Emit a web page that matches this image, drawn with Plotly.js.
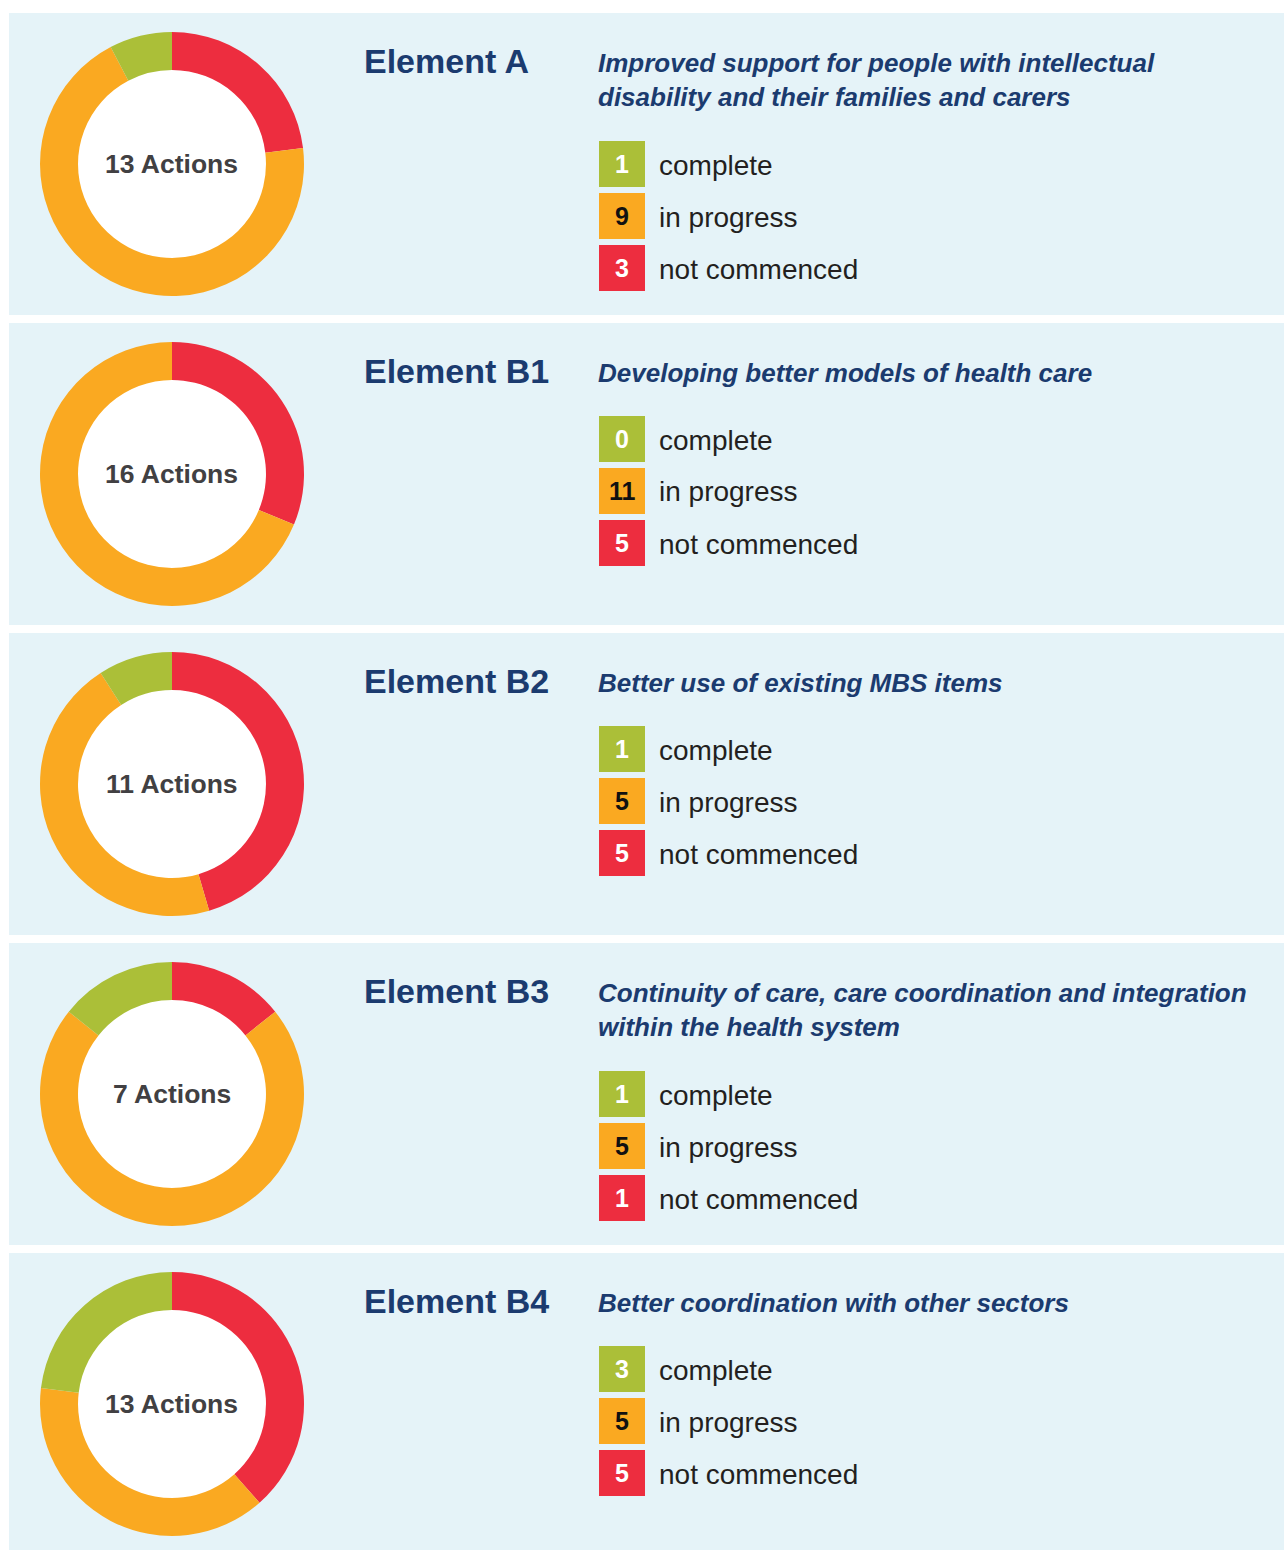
<!DOCTYPE html>
<html>
<head>
<meta charset="utf-8">
<script src="https://cdn.plot.ly/plotly-3.0.1.min.js"></script>
<style>
  html, body { margin: 0; padding: 0; background: #ffffff; }
  #chart { width: 1284px; height: 1550px; }
</style>
</head>
<body>
<div id="chart"></div>
<script>
// ---- Data ----
const elementNames = ["Element A", "Element B1", "Element B2", "Element B3", "Element B4"];
const elementSubtitles = [
  ["Improved support for people with intellectual", "disability and their families and carers"],
  ["Developing better models of health care"],
  ["Better use of existing MBS items"],
  ["Continuity of care, care coordination and integration", "within the health system"],
  ["Better coordination with other sectors"]
];
const completeCounts = [1, 0, 1, 1, 3];
const inProgressCounts = [9, 11, 5, 5, 5];
const notCommencedCounts = [3, 5, 5, 1, 5];
const statusLabels = ["complete", "in progress", "not commenced"];

// ---- Styles ----
const W = 1284, H = 1550;
const GREEN = "#ABBF38", ORANGE = "#FAA921", RED = "#ED2D3F";
const PANEL_BG = "#E5F3F8";
const NAVY = "#1B3B6F";
const FONT = "Liberation Sans, Arial, sans-serif";

const px = x => x / W;
const py = y => 1 - y / H;

const traces = [];
const shapes = [];
const annotations = [];

const PANEL_STEP = 310, PANEL_TOP = 13, PANEL_H = 302;

elementNames.forEach((name, i) => {
  const top = PANEL_TOP + i * PANEL_STEP;
  const bottom = Math.min(top + PANEL_H, H);
  // panel background
  shapes.push({
    type: "rect", xref: "paper", yref: "paper",
    x0: px(9), x1: px(W), y0: py(bottom), y1: py(top),
    fillcolor: PANEL_BG, line: { width: 0 }, layer: "below"
  });

  const cx = 172, cy = top + 151, r = 132, rin = 96;
  // white hole
  shapes.push({
    type: "circle", xref: "paper", yref: "paper",
    x0: px(cx - rin), x1: px(cx + rin), y0: py(cy + rin), y1: py(cy - rin),
    fillcolor: "#ffffff", line: { width: 0 }, layer: "below"
  });
  const vals = [notCommencedCounts[i], inProgressCounts[i], completeCounts[i]];
  const total = vals.reduce((a, b) => a + b, 0);
  traces.push({
    type: "pie",
    values: vals,
    labels: ["not commenced", "in progress", "complete"],
    marker: { colors: [RED, ORANGE, GREEN], line: { width: 0 } },
    sort: false,
    direction: "clockwise",
    rotation: 0,
    hole: 0.712,
    textinfo: "none",
    hoverinfo: "label+value",
    showlegend: false,
    domain: { x: [px(cx - r), px(cx + r)], y: [py(cy + r), py(cy - r)] }
  });
  annotations.push({
    xref: "paper", yref: "paper", x: px(cx), y: py(cy),
    xanchor: "center", yanchor: "middle", showarrow: false,
    text: "<b>" + total + " Actions</b>",
    font: { family: FONT, size: 26.5, color: "#414042" }
  });

  // Element title
  annotations.push({
    xref: "paper", yref: "paper", x: px(362), y: py(top + 48),
    xanchor: "left", yanchor: "middle", showarrow: false,
    text: "<b>" + name + "</b>",
    font: { family: FONT, size: 34, color: NAVY }
  });

  // Subtitle lines
  const lines = elementSubtitles[i];
  lines.forEach((ln, k) => {
    annotations.push({
      xref: "paper", yref: "paper", x: px(596), y: py(top + 50 + k * 34),
      xanchor: "left", yanchor: "middle", showarrow: false,
      text: "<b><i>" + ln + "</i></b>",
      font: { family: FONT, size: 26, color: NAVY }
    });
  });

  // Legend rows
  const legendTop = top + (lines.length > 1 ? 128 : 93);
  const counts = [completeCounts[i], inProgressCounts[i], notCommencedCounts[i]];
  const boxColors = [GREEN, ORANGE, RED];
  const numColors = ["#ffffff", "#111111", "#ffffff"];
  counts.forEach((c, k) => {
    const y0 = legendTop + k * 52;
    shapes.push({
      type: "rect", xref: "paper", yref: "paper",
      x0: px(599), x1: px(645), y0: py(y0 + 46), y1: py(y0),
      fillcolor: boxColors[k], line: { width: 0 }
    });
    annotations.push({
      xref: "paper", yref: "paper", x: px(622), y: py(y0 + 23),
      xanchor: "center", yanchor: "middle", showarrow: false,
      text: "<b>" + c + "</b>",
      font: { family: FONT, size: 25, color: numColors[k] }
    });
    annotations.push({
      xref: "paper", yref: "paper", x: px(657), y: py(y0 + 24),
      xanchor: "left", yanchor: "middle", showarrow: false,
      text: statusLabels[k],
      font: { family: FONT, size: 28, color: "#231F20" }
    });
  });
});

const layout = {
  width: W, height: H,
  margin: { l: 0, r: 0, t: 0, b: 0 },
  paper_bgcolor: "#ffffff",
  plot_bgcolor: "#ffffff",
  showlegend: false,
  shapes: shapes,
  annotations: annotations
};

Plotly.newPlot("chart", traces, layout, { staticPlot: true, displayModeBar: false });
</script>
</body>
</html>
